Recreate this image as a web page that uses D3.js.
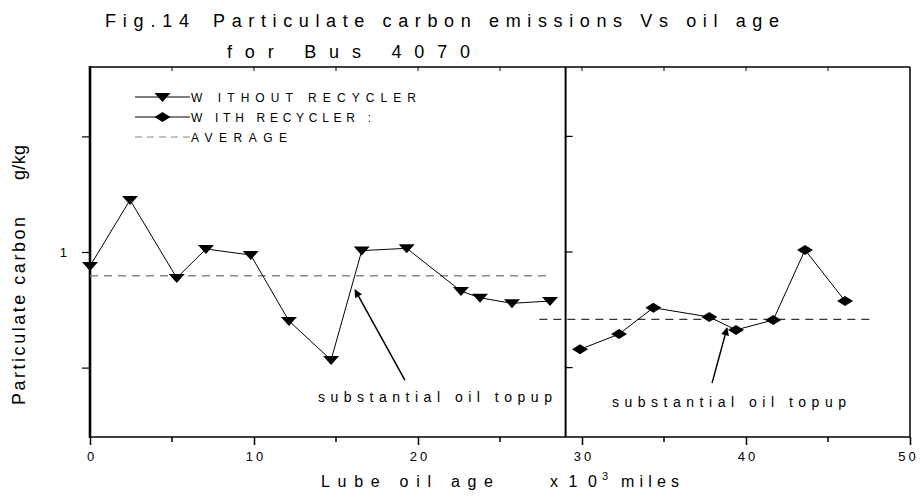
<!DOCTYPE html>
<html>
<head>
<meta charset="utf-8">
<script src="https://cdn.jsdelivr.net/npm/d3@7/dist/d3.min.js"></script>
<style>
  html, body { margin: 0; padding: 0; background: #fff; }
  svg { display: block; font-family: "Liberation Sans", Arial, sans-serif; }
</style>
</head>
<body>
<svg id="chart" width="921" height="500"></svg>
<script>
// ---- Data ----
const withoutX = [0, 2.44, 5.29, 7.07, 9.80, 12.13, 14.70, 16.57, 19.31, 22.62, 23.78, 25.73, 28.05];
const withoutY = [0.939, 1.225, 0.888, 1.013, 0.987, 0.702, 0.533, 1.006, 1.016, 0.831, 0.802, 0.778, 0.788];
const withX = [29.88, 32.26, 34.35, 37.76, 39.39, 41.66, 43.60, 46.04];
const withY = [0.579, 0.645, 0.759, 0.719, 0.663, 0.706, 1.009, 0.788];
const avgLeftX = [0, 27.9];
const avgLeftY = [0.897, 0.897];
const avgRightX = [27.4, 47.8];
const avgRightY = [0.709, 0.709];
const xTicks = [0, 10, 20, 30, 40, 50];
const xTickLabels = ["0", "10", "20", "30", "40", "50"];
const xMinorTicks = [5, 15, 25, 35, 45];
const yTicks = [0.5, 1, 1.5];
const yTickLabels = ["", "1", ""];
const dividerX = 29;
const legendLabels = ["W ITHOUT RECYCLER", "W ITH RECYCLER :", "AVERAGE"];
const annotations = [
  { text: "substantial oil topup", tx: 13.9, ty: 0.351, fromX: 19.2, fromY: 0.446, toX: 16.16, toY: 0.836 },
  { text: "substantial oil topup", tx: 31.83, ty: 0.330, fromX: 37.93, fromY: 0.433, toX: 38.84, toY: 0.671 }
];

// ---- Layout ----
const svg = d3.select("#chart");
const L = 90, R = 910, T = 67, B = 437;
const x = d3.scaleLinear().domain([0, 50]).range([L, R]);
const y = d3.scaleLinear().domain([0.2, 1.8]).range([B, T]);

svg.append("defs").append("marker")
  .attr("id", "arrow").attr("viewBox", "0 0 10 10").attr("refX", 9).attr("refY", 5)
  .attr("markerWidth", 10).attr("markerHeight", 8).attr("markerUnits", "userSpaceOnUse")
  .attr("orient", "auto")
  .append("path").attr("d", "M0,0 L10,5 L0,10 Z").attr("fill", "#000");

function spaced(xp, yp, size, len, str) {
  return svg.append("text").attr("x", xp).attr("y", yp).attr("font-size", size)
    .attr("textLength", len).attr("lengthAdjust", "spacing").text(str);
}

// Title
spaced(105, 27, 18, 84, "Fig.14");
spaced(213, 27, 18, 566, "Particulate carbon emissions Vs oil age");
spaced(227, 58, 18, 243, "for Bus 4070");

// Axes: bottom
const xAxis = d3.axisBottom(x).tickValues(xTicks).tickSize(8)
  .tickFormat((d, i) => xTickLabels[i]);
const gx = svg.append("g").attr("transform", `translate(0,${B})`).call(xAxis);
gx.select(".domain").remove();
gx.selectAll(".tick line").attr("stroke-width", 1.5);
gx.selectAll(".tick text").attr("font-size", 13).attr("dy", "1.0em")
  .attr("font-family", "Liberation Sans, Arial, sans-serif")
  .attr("letter-spacing", 3).attr("dx", (d, i) => i === xTicks.length - 1 ? -2 : 1.5);
svg.append("g").selectAll("line").data(xMinorTicks).join("line")
  .attr("x1", d => x(d)).attr("x2", d => x(d)).attr("y1", B).attr("y2", B + 5)
  .attr("stroke", "#000").attr("stroke-width", 1.5);

// Top minor ticks (inward)
svg.append("g").selectAll("line").data(d3.range(5, 50, 5)).join("line")
  .attr("x1", d => x(d)).attr("x2", d => x(d)).attr("y1", T).attr("y2", T + 4)
  .attr("stroke", "#000").attr("stroke-width", 1);

// Left axis
const yAxis = d3.axisLeft(y).tickValues(yTicks).tickSize(8)
  .tickFormat((d, i) => yTickLabels[i]);
const gy = svg.append("g").attr("transform", `translate(${L},0)`).call(yAxis);
gy.select(".domain").remove();
gy.selectAll(".tick line").attr("stroke-width", 1.2);
gy.selectAll(".tick text").attr("font-size", 13).attr("dx", "-12")
  .attr("font-family", "Liberation Sans, Arial, sans-serif");

// Divider ticks (pointing right)
svg.append("g").selectAll("line").data(yTicks).join("line")
  .attr("x1", x(dividerX)).attr("x2", x(dividerX) + 7).attr("y1", d => y(d)).attr("y2", d => y(d))
  .attr("stroke", "#000").attr("stroke-width", 1.2);

// Frame
svg.append("line").attr("x1", L).attr("x2", R).attr("y1", T).attr("y2", T).attr("stroke", "#000").attr("stroke-width", 1.5);
svg.append("line").attr("x1", L).attr("x2", R).attr("y1", B).attr("y2", B).attr("stroke", "#000").attr("stroke-width", 1.5);
svg.append("line").attr("x1", R).attr("x2", R).attr("y1", T).attr("y2", B).attr("stroke", "#000").attr("stroke-width", 1.5);
svg.append("line").attr("x1", L).attr("x2", L).attr("y1", T - 1).attr("y2", B + 1).attr("stroke", "#000").attr("stroke-width", 2.6);
svg.append("line").attr("x1", x(dividerX)).attr("x2", x(dividerX)).attr("y1", T).attr("y2", B).attr("stroke", "#000").attr("stroke-width", 2);

// Axis titles
spaced(321, 487, 16, 172, "Lube oil age");
spaced(550, 487, 16, 47, "x10");
svg.append("text").attr("x", 602).attr("y", 480).attr("font-size", 11).text("3");
spaced(621, 487, 16, 58, "miles");
svg.append("text").attr("transform", "translate(25,405) rotate(-90)").attr("font-size", 18)
  .attr("textLength", 188).attr("lengthAdjust", "spacing").text("Particulate carbon");
svg.append("text").attr("transform", "translate(25,180) rotate(-90)").attr("font-size", 18)
  .attr("textLength", 35).attr("lengthAdjust", "spacing").text("g/kg");

// Average lines
const line = d3.line().x(d => x(d[0])).y(d => y(d[1]));
svg.append("path").datum(d3.zip(avgLeftX, avgLeftY)).attr("d", line)
  .attr("fill", "none").attr("stroke", "#888").attr("stroke-width", 1.5).attr("stroke-dasharray", "8,6");
svg.append("path").datum(d3.zip(avgRightX, avgRightY)).attr("d", line)
  .attr("fill", "none").attr("stroke", "#333").attr("stroke-width", 1.2).attr("stroke-dasharray", "8,6");

// Series lines
const withoutPts = d3.zip(withoutX, withoutY);
const withPts = d3.zip(withX, withY);
svg.append("path").datum(withoutPts).attr("d", line).attr("fill", "none").attr("stroke", "#000").attr("stroke-width", 1);
svg.append("path").datum(withPts).attr("d", line).attr("fill", "none").attr("stroke", "#000").attr("stroke-width", 1);

const triPath = "M-8,-4 L8,-4 L0,5 Z";
const diaPath = "M-8,0 L0,-5 L8,0 L0,5 Z";
svg.append("g").selectAll("path").data(withoutPts).join("path")
  .attr("transform", d => `translate(${x(d[0])},${y(d[1])})`).attr("d", triPath).attr("fill", "#000");
svg.append("g").selectAll("path").data(withPts).join("path")
  .attr("transform", d => `translate(${x(d[0])},${y(d[1])})`).attr("d", diaPath).attr("fill", "#000");

// Annotations
annotations.forEach(a => {
  svg.append("line").attr("x1", x(a.fromX)).attr("y1", y(a.fromY)).attr("x2", x(a.toX)).attr("y2", y(a.toY))
    .attr("stroke", "#000").attr("stroke-width", 1.5).attr("marker-end", "url(#arrow)");
  spaced(x(a.tx), y(a.ty), 14, 234, a.text);
});

// Legend
const lgX1 = 135, lgX2 = 190, lgY0 = 97, lgDY = 20;
const lgLens = [225, 180, 96];
legendLabels.forEach((lab, i) => {
  const yy = lgY0 + i * lgDY;
  const ln = svg.append("line").attr("x1", lgX1).attr("x2", lgX2).attr("y1", yy).attr("y2", yy);
  if (i < 2) {
    ln.attr("stroke", "#000").attr("stroke-width", 1);
    svg.append("path").attr("transform", `translate(${(lgX1 + lgX2) / 2},${yy})`)
      .attr("d", i === 0 ? triPath : diaPath).attr("fill", "#000");
  } else {
    ln.attr("stroke", "#888").attr("stroke-width", 1.2).attr("stroke-dasharray", "7,5");
  }
  spaced(lgX2 + 1, yy + 4.5, 12, lgLens[i], lab);
});
</script>
</body>
</html>
